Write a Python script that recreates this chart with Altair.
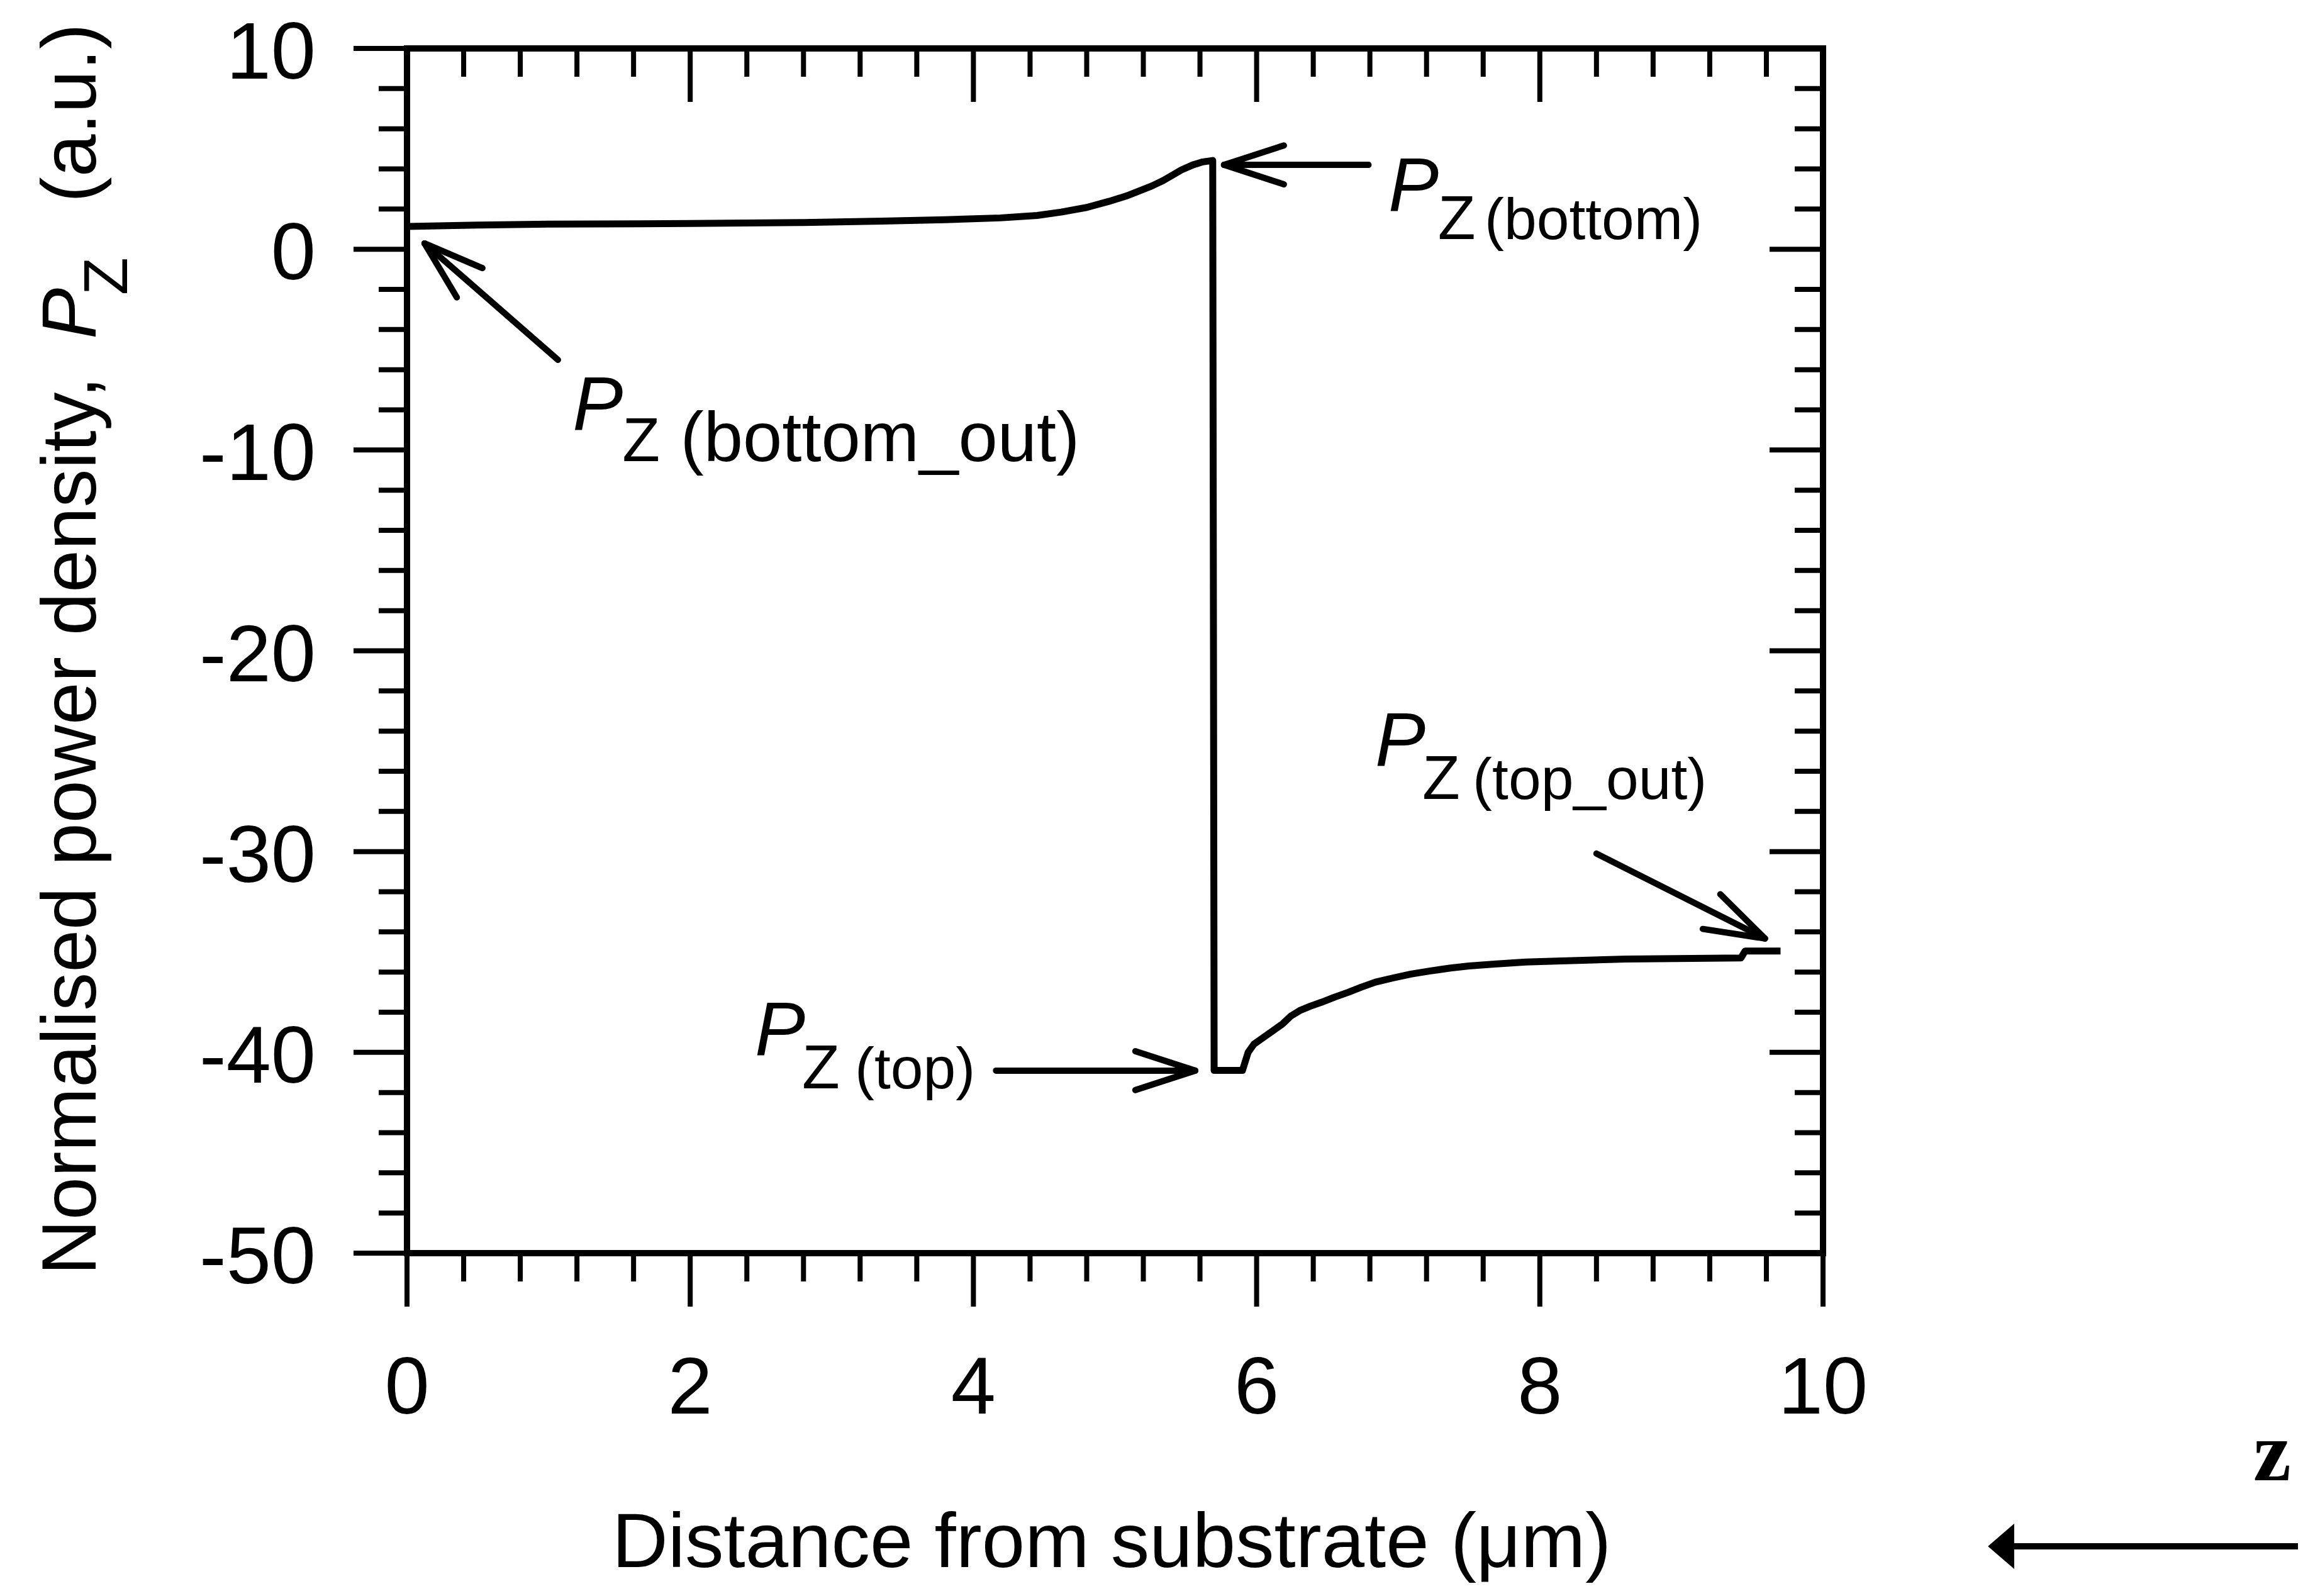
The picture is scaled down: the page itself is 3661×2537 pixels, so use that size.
import math
import altair as alt
import pandas as pd

# ---------------- data ----------------
curve_x = [0.0, 0.5, 1.0, 2.0, 2.8, 3.35, 3.8, 4.19, 4.45, 4.62, 4.80, 4.96, 5.08, 5.17,
           5.26, 5.34, 5.47, 5.55, 5.62, 5.69, 5.70, 5.90, 5.94, 5.98, 6.06, 6.12, 6.18,
           6.24, 6.31, 6.38, 6.46, 6.55, 6.65, 6.74, 6.84, 6.96, 7.09, 7.22, 7.37, 7.50,
           7.68, 7.90, 8.15, 8.61, 9.42, 9.45, 9.70]
curve_y = [1.13, 1.20, 1.25, 1.28, 1.33, 1.40, 1.47, 1.56, 1.68, 1.85, 2.08, 2.39, 2.65, 2.90,
           3.15, 3.42, 3.95, 4.20, 4.35, 4.42, -40.9, -40.9, -40.0, -39.6, -39.2, -38.9, -38.6,
           -38.2, -37.9, -37.7, -37.5, -37.25, -37.0, -36.75, -36.5, -36.3, -36.1, -35.95, -35.8,
           -35.7, -35.6, -35.5, -35.45, -35.35, -35.3, -34.95, -34.95]

x_major = [0, 2, 4, 6, 8, 10]
x_minor = [0.4, 0.8, 1.2, 1.6, 2.4, 2.8, 3.2, 3.6, 4.4, 4.8, 5.2, 5.6,
           6.4, 6.8, 7.2, 7.6, 8.4, 8.8, 9.2, 9.6]
y_major = [-50, -40, -30, -20, -10, 0, 10]
y_minor = [-48, -46, -44, -42, -38, -36, -34, -32, -28, -26, -24, -22,
           -18, -16, -14, -12, -8, -6, -4, -2, 2, 4, 6, 8]
x_labels = ["0", "2", "4", "6", "8", "10"]
y_labels = ["-50", "-40", "-30", "-20", "-10", "0", "10"]

# annotation arrows (data coordinates)
arrow_tail_x = [1.066, 6.79, 4.16, 8.40]
arrow_tail_y = [-5.51, 4.20, -40.91, -30.10]
arrow_tip_x = [0.124, 5.77, 5.566, 9.59]
arrow_tip_y = [0.29, 4.20, -40.91, -34.33]

# annotation labels
label_p_x = [1.17, 6.93, 2.457, 6.837]
label_p_y = [-8.98, 1.92, -40.13, -25.71]
label_z_x = [1.52, 7.28, 2.79, 7.17]
label_z_y = [-10.55, 0.51, -41.79, -27.37]
label_sub_text = ["(bottom_out)", "(bottom)", "(top)", "(top_out)"]
label_sub_x = [1.93, 7.61, 3.163, 7.526]
label_sub_size = [112, 93, 93, 93]

# ---------------- layout ----------------
W, H = 2251, 1915
FONT = "Liberation Sans"
MAJ, MIN = 85, 45
TW = 8

xs = alt.Scale(domain=[0, 10], nice=False, zero=False)
ys = alt.Scale(domain=[-50, 10], nice=False, zero=False)

curve_df = pd.DataFrame({"x": curve_x, "y": curve_y, "i": list(range(len(curve_x)))})

curve = alt.Chart(curve_df).mark_line(color="black", strokeWidth=11, strokeJoin="round").encode(
    x=alt.X("x:Q", scale=xs, axis=None),
    y=alt.Y("y:Q", scale=ys, axis=None),
    order="i:O",
)

ymin_df = pd.DataFrame({"y": y_minor})
ymaj_df = pd.DataFrame({"y": y_major, "t": y_labels})
xmin_df = pd.DataFrame({"x": x_minor})
xmaj_df = pd.DataFrame({"x": x_major, "t": x_labels})


def yrule(df, x0, x1):
    return alt.Chart(df).mark_rule(color="black", strokeWidth=TW, strokeCap="butt").encode(
        y=alt.Y("y:Q", scale=ys, axis=None), x=alt.value(x0), x2=alt.value(x1))


def xrule(df, y0, y1):
    return alt.Chart(df).mark_rule(color="black", strokeWidth=TW, strokeCap="butt").encode(
        x=alt.X("x:Q", scale=xs, axis=None), y=alt.value(y0), y2=alt.value(y1))


ticks = [
    yrule(ymin_df, 0, -MIN),          # left minor (outward)
    yrule(ymaj_df, 0, -MAJ),          # left major
    yrule(ymin_df, W, W - MIN),       # right minor (inward)
    yrule(ymaj_df, W, W - MAJ),       # right major
    xrule(xmin_df, H, H + MIN),       # bottom minor (outward)
    xrule(xmaj_df, H, H + MAJ),       # bottom major
    xrule(xmin_df, 0, MIN),           # top minor (inward)
    xrule(xmaj_df, 0, MAJ),           # top major
]

x_tick_labels = alt.Chart(xmaj_df).mark_text(
    font=FONT, fontSize=128, align="center", baseline="alphabetic", color="black").encode(
    x=alt.X("x:Q", scale=xs, axis=None), y=alt.value(2170), text="t:N")
y_tick_labels = alt.Chart(ymaj_df).mark_text(
    font=FONT, fontSize=128, align="right", baseline="alphabetic", color="black", dy=48).encode(
    y=alt.Y("y:Q", scale=ys, axis=None), x=alt.value(-145), text="t:N")

# arrows: shafts + chevron barbs, computed in pixel space
PX = W / 10.0
PY = H / 60.0
seg_rows = []
for tx, ty, hx, hy in zip(arrow_tail_x, arrow_tail_y, arrow_tip_x, arrow_tip_y):
    seg_rows.append({"x": tx, "y": ty, "x2": hx, "y2": hy, "w": 10})
    dx = (tx - hx) * PX
    dy = -(ty - hy) * PY
    L = math.hypot(dx, dy)
    ux, uy = dx / L, dy / L
    for s in (1, -1):
        a = math.radians(18 * s)
        bx = ux * math.cos(a) - uy * math.sin(a)
        by = ux * math.sin(a) + uy * math.cos(a)
        ex = hx + bx * 100 / PX
        ey = hy - by * 100 / PY
        seg_rows.append({"x": hx, "y": hy, "x2": ex, "y2": ey, "w": 10})
seg_df = pd.DataFrame(seg_rows)

arrows = alt.Chart(seg_df).mark_rule(color="black", strokeCap="round").encode(
    x=alt.X("x:Q", scale=xs, axis=None), y=alt.Y("y:Q", scale=ys, axis=None),
    x2="x2:Q", y2="y2:Q", strokeWidth=alt.StrokeWidth("w:Q", scale=None),
)

p_df = pd.DataFrame({"x": label_p_x, "y": label_p_y, "t": ["P"] * 4})
z_df = pd.DataFrame({"x": label_z_x, "y": label_z_y, "t": ["Z"] * 4})
sub_df = pd.DataFrame({"x": label_sub_x, "y": label_z_y, "t": label_sub_text, "s": label_sub_size})

p_text = alt.Chart(p_df).mark_text(font=FONT, fontSize=120, fontStyle="italic", align="left",
                                   baseline="alphabetic", color="black").encode(
    x=alt.X("x:Q", scale=xs, axis=None), y=alt.Y("y:Q", scale=ys, axis=None), text="t:N")
z_text = alt.Chart(z_df).mark_text(font=FONT, fontSize=98, align="left",
                                   baseline="alphabetic", color="black").encode(
    x=alt.X("x:Q", scale=xs, axis=None), y=alt.Y("y:Q", scale=ys, axis=None), text="t:N")
sub_text = alt.Chart(sub_df).mark_text(font=FONT, align="left",
                                       baseline="alphabetic", color="black").encode(
    x=alt.X("x:Q", scale=xs, axis=None), y=alt.Y("y:Q", scale=ys, axis=None), text="t:N",
    size=alt.Size("s:Q", scale=None))

# y-axis title pieces (rotated)
ytitle_text = ["Normalised power density,", "P", "Z", "(a.u.)"]
ytitle_pos = [1950, 462, 392, 245]
ytitle_base = [-495, -495, -445, -495]
ytitle_size = [122, 122, 98, 122]
ytitle_style = ["normal", "italic", "normal", "normal"]
ytitle_layers = []
for t, pos, b, sz, st in zip(ytitle_text, ytitle_pos, ytitle_base, ytitle_size, ytitle_style):
    ytitle_layers.append(
        alt.Chart(pd.DataFrame({"t": [t]})).mark_text(
            font=FONT, fontSize=sz, fontStyle=st, angle=270, align="left",
            baseline="alphabetic", color="black").encode(
            x=alt.value(b), y=alt.value(pos), text="t:N"))

xtitle = alt.Chart(pd.DataFrame({"t": ["Distance from substrate (\u03bcm)"]})).mark_text(
    font=FONT, fontSize=123, align="center", baseline="alphabetic", color="black").encode(
    x=alt.value(1120), y=alt.value(2414), text="t:N")

# z direction marker (bottom right)
z_mark = alt.Chart(pd.DataFrame({"t": ["z"]})).mark_text(
    font="Liberation Serif", fontSize=135, fontWeight="bold", align="left",
    baseline="alphabetic", color="black").encode(
    x=alt.value(2935), y=alt.value(2276), text="t:N")
z_shaft = alt.Chart(pd.DataFrame({"a": [0]})).mark_rule(
    color="black", strokeWidth=10, strokeCap="butt").encode(
    x=alt.value(2550), x2=alt.value(3010), y=alt.value(2381))
z_head = alt.Chart(pd.DataFrame({"a": [0]})).mark_point(
    shape="M -0.58 0 L 0.58 -1 L 0.58 1 Z", filled=True, size=5184, color="black",
    strokeWidth=0, opacity=1).encode(x=alt.value(2534), y=alt.value(2381))

chart = alt.layer(
    curve, *ticks, x_tick_labels, y_tick_labels, arrows, p_text, z_text, sub_text,
    *ytitle_layers, xtitle, z_mark, z_shaft, z_head,
).properties(
    width=W, height=H,
    padding={"left": 639, "top": 69, "right": 755, "bottom": 537},
    autosize=alt.AutoSizeParams(type="none"),
    background="white",
).configure_view(stroke="black", strokeWidth=10)

chart.save("out.html", embed_options={"renderer": "svg", "actions": False})
